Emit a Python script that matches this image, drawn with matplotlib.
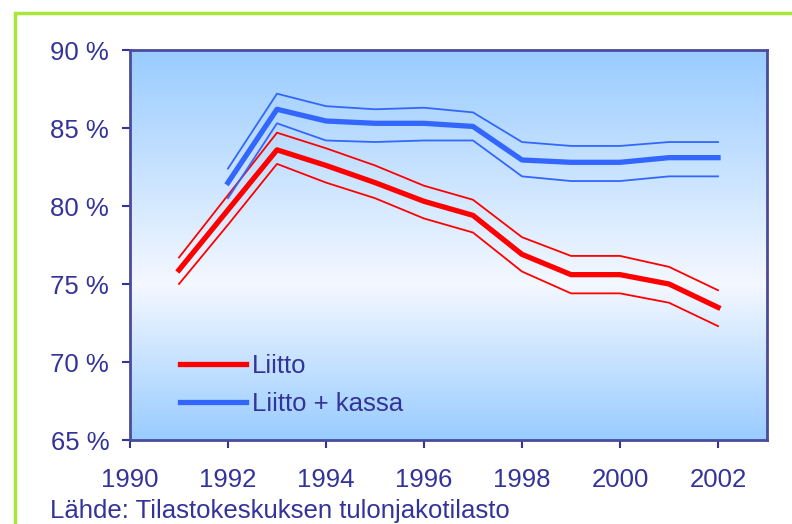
import matplotlib
matplotlib.use("Agg")
import matplotlib.pyplot as plt
import numpy as np
from matplotlib.colors import LinearSegmentedColormap
from matplotlib.patches import Rectangle

# Tiedot (luettu kuvasta)
years_liitto = [1991, 1992, 1993, 1994, 1995, 1996, 1997, 1998, 1999, 2000, 2001, 2002]
liitto = [75.9, 79.75, 83.6, 82.6, 81.5, 80.3, 79.4, 76.9, 75.6, 75.6, 75.0, 73.5]
liitto_hi = [76.7, 80.7, 84.7, 83.7, 82.6, 81.3, 80.4, 78.0, 76.8, 76.8, 76.1, 74.6]
liitto_lo = [75.0, 78.8, 82.7, 81.5, 80.5, 79.2, 78.3, 75.8, 74.4, 74.4, 73.8, 72.3]

years_kassa = [1992, 1993, 1994, 1995, 1996, 1997, 1998, 1999, 2000, 2001, 2002]
kassa = [81.5, 86.2, 85.45, 85.3, 85.3, 85.1, 82.95, 82.8, 82.8, 83.1, 83.1]
kassa_hi = [82.4, 87.2, 86.4, 86.2, 86.3, 86.0, 84.1, 83.85, 83.85, 84.1, 84.1]
kassa_lo = [80.5, 85.3, 84.2, 84.1, 84.2, 84.2, 81.9, 81.6, 81.6, 81.9, 81.9]

xticks = [1990, 1992, 1994, 1996, 1998, 2000, 2002]
yticks = [65, 70, 75, 80, 85, 90]

navy = '#333399'
red = '#FF0000'
blue = '#3366FF'
fs = 18.5

plt.rcParams['font.family'] = ['Liberation Sans', 'DejaVu Sans']

fig = plt.figure(figsize=(7.92, 5.24), dpi=100)
W, H = 792, 524

# vihreä reunus
fig.patches.append(Rectangle((15 / W, -0.1), 1.2, (H - 13) / H + 0.1,
                             transform=fig.transFigure, fill=False,
                             edgecolor='#A8E63A', linewidth=2.5))

ax = fig.add_axes([130 / W, (H - 440) / H, (767 - 130) / W, (440 - 50) / H])

# liukuväritausta
cmap = LinearSegmentedColormap.from_list('bg', [(0, '#99CCFF'), (0.6, '#F4F8FF'), (1, '#99CCFF')])
grad = np.linspace(0, 1, 256).reshape(-1, 1)
ax.imshow(grad, cmap=cmap, aspect='auto', extent=[0, 1, 0, 1],
          transform=ax.transAxes, zorder=0, origin='upper')

ax.plot(years_liitto, liitto_hi, color=red, lw=1.3, zorder=3)
ax.plot(years_liitto, liitto_lo, color=red, lw=1.3, zorder=3)
ax.plot(years_liitto, liitto, color=red, lw=3.8, zorder=4, label='Liitto')
ax.plot(years_kassa, kassa_hi, color=blue, lw=1.3, zorder=3)
ax.plot(years_kassa, kassa_lo, color=blue, lw=1.3, zorder=3)
ax.plot(years_kassa, kassa, color=blue, lw=3.8, zorder=4, label='Liitto + kassa')

ax.set_xlim(1990, 2003)
ax.set_ylim(65, 90)
ax.set_xticks(xticks)
ax.set_yticks(yticks)
ax.set_yticklabels(['%d %%' % v for v in yticks])

for s in ax.spines.values():
    s.set_color('#4B4B9B')
    s.set_linewidth(2)
ax.tick_params(colors=navy, labelsize=fs, length=6, width=1.5, direction='out')
ax.tick_params(axis='x', pad=14)
ax.tick_params(axis='y', pad=9)

leg = ax.legend(loc='lower left', bbox_to_anchor=(0.078, 0.062), frameon=False,
                fontsize=fs, handlelength=2.6, handletextpad=0.2, labelspacing=0.55,
                borderaxespad=0, borderpad=0)
for t in leg.get_texts():
    t.set_color(navy)

fig.text(50 / W, 1 - 511 / H, 'Lähde: Tilastokeskuksen tulonjakotilasto',
         color=navy, fontsize=fs, va='center', ha='left')

fig.savefig('out.png', dpi=100)
